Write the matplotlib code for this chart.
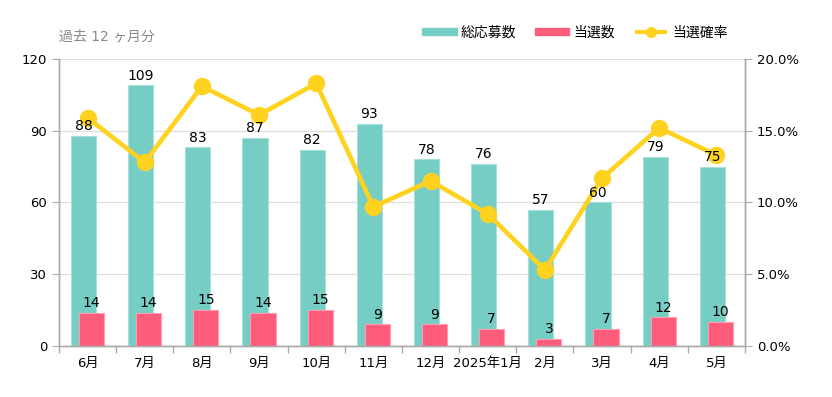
import numpy as np
import matplotlib
matplotlib.use("Agg")
import matplotlib.pyplot as plt
from matplotlib.lines import Line2D

plt.rcParams['font.family'] = ['DejaVu Sans', 'Noto Sans CJK JP']

months = ["6月", "7月", "8月", "9月", "10月", "11月", "12月", "2025年1月", "2月", "3月", "4月", "5月"]
applicants = [88, 109, 83, 87, 82, 93, 78, 76, 57, 60, 79, 75]
winners = [14, 14, 15, 14, 15, 9, 9, 7, 3, 7, 12, 10]
win_rate = [15.9, 12.8, 18.1, 16.1, 18.3, 9.7, 11.5, 9.2, 5.3, 11.7, 15.2, 13.3]

teal = "#76CDC4"
pink = "#FF5C7C"
yellow = "#FFD21F"
gray = "#AAAAAA"

fig = plt.figure(figsize=(8.32, 3.97), dpi=100)
ax = fig.add_axes([0.0709, 0.1285, 0.8245, 0.7229])
ax2 = ax.twinx()

x = np.arange(len(months))
w = 0.44
off = 0.07
ax.bar(x - off, applicants, w, color=teal, edgecolor="#A8E0DA", linewidth=0.8, zorder=2)
ax.bar(x + off, winners, w, color=pink, edgecolor="#FF9DB0", linewidth=0.8, zorder=3)

ax2.plot(x, win_rate, color=yellow, lw=3.3, marker="o", ms=11.5, zorder=4)

for i in range(len(x)):
    ax2.annotate(str(applicants[i]), (x[i] - off, applicants[i]), xycoords=ax.transData,
                 xytext=(0, 2), textcoords="offset points", ha="center", va="bottom",
                 fontsize=10, color="black", zorder=6)
    ax2.annotate(str(winners[i]), (x[i] + off, winners[i]), xycoords=ax.transData,
                 xytext=(0, 2), textcoords="offset points", ha="center", va="bottom",
                 fontsize=10, color="black", zorder=6)

ax.set_xlim(-0.5, len(months) - 0.5)
ax.set_ylim(0, 120)
ax.set_yticks([0, 30, 60, 90, 120])
ax2.set_ylim(0, 20)
ax2.set_yticks([0, 5, 10, 15, 20])
ax2.set_yticklabels(["0.0%", "5.0%", "10.0%", "15.0%", "20.0%"])

ax.set_xticks(x)
ax.set_xticklabels(months)
ax.set_xticks(np.arange(-0.5, len(months), 1), minor=True)
ax.tick_params(axis="x", which="major", length=0, labelsize=9.5, pad=8)
ax.tick_params(axis="x", which="minor", length=5, color=gray, width=1)
ax.tick_params(axis="y", length=5, color=gray, labelsize=9.5)
ax2.tick_params(axis="y", length=5, color=gray, labelsize=9.5)

ax.grid(axis="y", color="#DDDDDD", lw=0.9, zorder=0)
ax.set_axisbelow(True)
for a in (ax, ax2):
    a.spines["top"].set_visible(False)
    for s in ("left", "right", "bottom"):
        a.spines[s].set_color(gray)
        a.spines[s].set_linewidth(1)

fig.text(59 / 832, 1 - 37 / 397, "過去 12 ヶ月分", color="#888888", fontsize=10, va="center")

handles = [Line2D([0], [0], color=teal, lw=6),
           Line2D([0], [0], color=pink, lw=6),
           Line2D([0], [0], color=yellow, lw=3, marker="o", ms=7)]
fig.legend(handles, ["総応募数", "当選数", "当選確率"], ncol=3, frameon=False,
           loc="center right", bbox_to_anchor=(740 / 832, 1 - 33 / 397),
           fontsize=10, handlelength=2.0, columnspacing=1.6, handletextpad=0.5)

fig.savefig("out.png", dpi=100)
